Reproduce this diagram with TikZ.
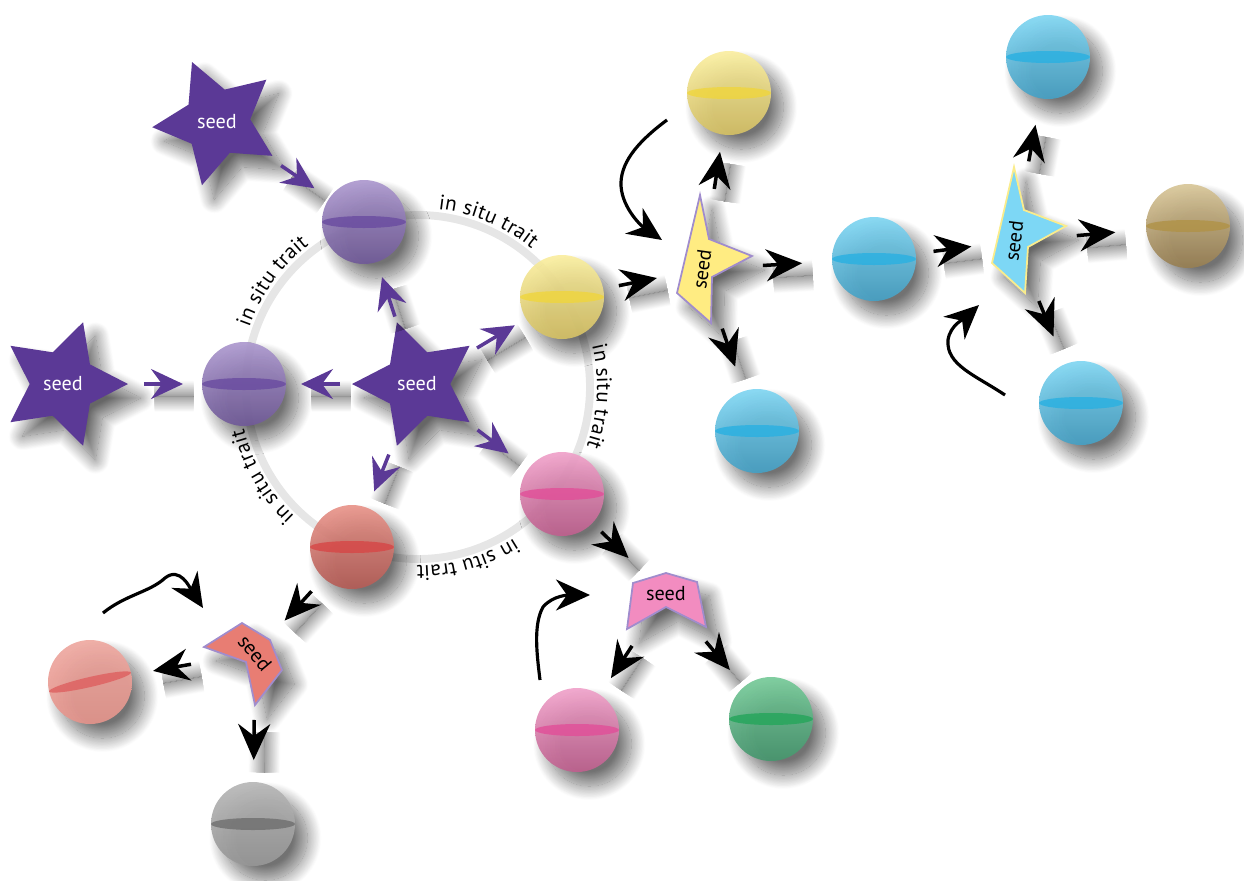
\documentclass[tikz,border=0pt]{standalone}
\usepackage{fontspec}
\setsansfont{PT Sans}
\usetikzlibrary{shapes.geometric,arrows.meta,decorations.text,shadows.blur,calc}

\definecolor{seedpur}{RGB}{91,57,150}
\definecolor{ringgray}{RGB}{230,230,230}
\definecolor{tagpur}{RGB}{160,140,205}
\definecolor{tagrim}{RGB}{250,236,140}
\definecolor{tagyel}{RGB}{255,236,130}
\definecolor{tagcya}{RGB}{125,215,245}
\definecolor{tagpnk}{RGB}{242,140,192}
\definecolor{tagred}{RGB}{232,125,115}
% sphere colours: top, bottom, band
\definecolor{purtop}{RGB}{172,152,206}\definecolor{purbot}{RGB}{112,90,152}\definecolor{purmid}{RGB}{105,75,160}
\definecolor{yeltop}{RGB}{250,238,160}\definecolor{yelbot}{RGB}{212,192,100}\definecolor{yelmid}{RGB}{240,214,60}
\definecolor{pnktop}{RGB}{240,162,202}\definecolor{pnkbot}{RGB}{190,96,142}\definecolor{pnkmid}{RGB}{226,78,152}
\definecolor{redtop}{RGB}{232,148,138}\definecolor{redbot}{RGB}{180,92,86}\definecolor{redmid}{RGB}{215,70,70}
\definecolor{cyatop}{RGB}{128,214,242}\definecolor{cyabot}{RGB}{70,160,196}\definecolor{cyamid}{RGB}{40,176,226}
\definecolor{tantop}{RGB}{216,198,152}\definecolor{tanbot}{RGB}{150,126,82}\definecolor{tanmid}{RGB}{176,146,70}
\definecolor{saltop}{RGB}{238,168,160}\definecolor{salbot}{RGB}{228,148,140}\definecolor{salmid}{RGB}{222,95,95}
\definecolor{grytop}{RGB}{182,182,182}\definecolor{grybot}{RGB}{150,150,150}\definecolor{grymid}{RGB}{110,110,110}
\definecolor{grntop}{RGB}{118,202,152}\definecolor{grnbot}{RGB}{70,150,110}\definecolor{grnmid}{RGB}{35,165,90}

\newcommand{\seedfont}{\sffamily\fontsize{11.5}{13}\selectfont}
\newcommand{\ringfont}{\sffamily\fontsize{12}{14}\selectfont}

\tikzset{
  softshadow/.style={blur shadow={shadow xshift=7pt, shadow yshift=-8pt, shadow blur radius=8pt,
    shadow blur steps=24, shadow opacity=60}},
  ball/.style={circle, minimum size=1.68cm, inner sep=0, fill opacity=.92, softshadow},
  seedstar/.style={star, star points=5, star point ratio=1.95, minimum size=2.6cm, inner sep=0,
    fill=seedpur, text=white, font=\seedfont, softshadow},
  seedtag/.style={inner sep=0, font=\seedfont},
  tagline/.style={line width=1pt, draw=tagpur, softshadow},
  arrshade/.style={blur shadow={shadow xshift=6pt, shadow yshift=-7pt, shadow blur radius=9pt,
    shadow blur steps=24, shadow opacity=75}},
  purarrow/.style={draw=seedpur, line width=2pt, -{Stealth[length=0.64cm, width=0.6cm, inset=0.22cm]}, arrshade},
  blkarrow/.style={draw=black, line width=2pt, -{Stealth[length=0.72cm, width=0.64cm, inset=0.24cm]}, arrshade},
  curlarrow/.style={draw=black, line width=1.8pt, -{Stealth[length=0.68cm, width=0.62cm, inset=0.22cm]}},
  ringline/.style={draw=ringgray, line width=4.5pt}
}

% sphere: name, position, colour prefix
\newcommand{\ball}[3]{%
  \node[ball, top color=#3top, bottom color=#3bot] (#1) at (#2) {};
  \fill[#3mid, opacity=.8] (#1.center) ellipse [x radius=42, y radius=6];
}

\begin{document}
\begin{tikzpicture}[x=0.02cm, y=-0.02cm]
 \useasboundingbox (0,0) rectangle (1244,880);

% the ring of traits
 \coordinate (ring) at (418,387);
 \draw[ringline] (ring) circle [radius=172];
 \foreach \a in {-67,3,74,150,216}
   \path[decorate, decoration={text along path, text={|\ringfont|in situ trait}, text align=center, raise=4pt}]
     (ring) ++(\a-30:172) arc [start angle=\a-30, end angle=\a+30, radius=172];

% spheres
 \ball{pT}{364,222}{pur}
 \ball{pL}{244,384}{pur}
 \ball{yR}{562,297}{yel}
 \ball{kR}{562,494}{pnk}
 \ball{rR}{352,547}{red}
 \ball{yT}{729,93}{yel}
 \ball{cM}{874,259}{cya}
 \ball{cB}{757,431}{cya}
 \ball{cT}{1048,57}{cya}
 \ball{tn}{1188,226}{tan}
 \ball{cD}{1081,403}{cya}
 \ball{gr}{253,824}{gry}
 \ball{kB}{577,730}{pnk}
 \ball{gn}{771,719}{grn}
 \node[ball, top color=saltop, bottom color=salbot] (sa) at (90,682) {};
 \fill[salmid, opacity=.8, rotate around={13:(sa.center)}] (sa.center) ellipse [x radius=42, y radius=5];

% purple seed stars
 \node[seedstar, shape border rotate=22.6] (stT) at (217,122) {seed};
 \node[seedstar, shape border rotate=-18] (stL) at (63,384) {seed};
 \node[seedstar, shape border rotate=18] (stC) at (417,384) {seed};

% seed tags
 \filldraw[tagline, fill=tagyel] (700,195) -- (709,239) -- (752,256) -- (712,277) -- (711,323) -- (677,293) -- cycle;
 \node[seedtag, rotate=82] (sY) at (702,269) {seed};
 \filldraw[tagline, draw=tagrim, fill=tagcya] (1014,167) -- (1024,210) -- (1066,226) -- (1028,247) -- (1025,293) -- (992,263) -- cycle;
 \node[seedtag, rotate=83] (sC) at (1014,241) {seed};
 \filldraw[tagline, fill=tagpnk] (666,573) -- (697,582) -- (706,627) -- (666,607) -- (627,629) -- (633,583) -- cycle;
 \node[seedtag] (sK) at (666,594) {seed};
 \filldraw[tagline, fill=tagred] (242,623) -- (270,640) -- (282,670) -- (255,705) -- (246,662) -- (204,647) -- cycle;
 \node[seedtag, rotate=-50] (sR) at (255,653) {seed};

% purple arrows round the ring
 \draw[purarrow] ($(stT.center)!1.55cm!(pT.center)$) -- ($(pT.center)!1.20cm!(stT.center)$);
 \draw[purarrow] ($(stL.center)!1.62cm!(pL.center)$) -- ($(pL.center)!1.22cm!(stL.center)$);
 \draw[purarrow] ($(stC.center)!1.54cm!(pL.center)$) -- ($(pL.center)!1.14cm!(stC.center)$);
 \draw[purarrow] ($(stC.center)!1.42cm!(pT.center)$) -- ($(pT.center)!1.16cm!(stC.center)$);
 \draw[purarrow] ($(stC.center)!1.40cm!(yR.center)$) -- ($(yR.center)!1.10cm!(stC.center)$);
 \draw[purarrow] ($(stC.center)!1.52cm!(kR.center)$) -- ($(kR.center)!1.34cm!(stC.center)$);
 \draw[purarrow] ($(stC.center)!1.52cm!(rR.center)$) -- ($(rR.center)!1.20cm!(stC.center)$);

% black arrows
 \draw[blkarrow] ($(yR.center)!1.16cm!(sY.center)$) -- ($(sY.center)!0.92cm!(yR.center)$);
 \draw[blkarrow] ($(sY.center)!1.22cm!(cM.center)$) -- ($(cM.center)!1.44cm!(sY.center)$);
 \draw[blkarrow] ($(sY.center)!1.62cm!(yT.center)$) -- ($(yT.center)!1.19cm!(sY.center)$);
 \draw[blkarrow] ($(sY.center)!1.26cm!(cB.center)$) -- ($(cB.center)!1.36cm!(sY.center)$);
 \draw[blkarrow] ($(cM.center)!1.20cm!(sC.center)$) -- ($(sC.center)!0.86cm!(cM.center)$);
 \draw[blkarrow] ($(sC.center)!1.62cm!(cT.center)$) -- ($(cT.center)!1.38cm!(sC.center)$);
 \draw[blkarrow] ($(sC.center)!1.26cm!(tn.center)$) -- ($(tn.center)!1.46cm!(sC.center)$);
 \draw[blkarrow] ($(sC.center)!1.30cm!(cD.center)$) -- ($(cD.center)!1.44cm!(sC.center)$);
 \draw[blkarrow] ($(kR.center)!1.09cm!(sK.center)$) -- ($(sK.center)!1.04cm!(kR.center)$);
 \draw[blkarrow] ($(sK.center)!1.24cm!(kB.center)$) -- ($(kB.center)!1.24cm!(sK.center)$);
 \draw[blkarrow] ($(sK.center)!1.24cm!(gn.center)$) -- ($(gn.center)!1.28cm!(sK.center)$);
 \draw[blkarrow] ($(rR.center)!1.20cm!(sR.center)$) -- ($(sR.center)!0.88cm!(rR.center)$);
 \draw[blkarrow] ($(sR.center)!1.30cm!(sa.center)$) -- ($(sa.center)!1.28cm!(sR.center)$);
 \draw[blkarrow] ($(sR.center)!1.34cm!(gr.center)$) -- ($(gr.center)!1.28cm!(sR.center)$);

% curled arrows coming in from outside
 \coordinate (qY0) at (667,120); \coordinate (qY1) at (662,240);
 \draw[curlarrow] (qY0) .. controls (640,140) and (622,160) .. (621,182) .. controls (620,205) and (640,225) .. (qY1);
 \coordinate (qC0) at (1005,395); \coordinate (qC1) at (979,305);
 \draw[curlarrow] (qC0) .. controls (975,375) and (946,365) .. (948,340) .. controls (950,325) and (965,318) .. (qC1);
 \coordinate (qK0) at (540,680); \coordinate (qK1) at (590,595);
 \draw[curlarrow] (qK0) .. controls (537,655) and (533,625) .. (543,607) .. controls (553,595) and (570,595) .. (qK1);
 \coordinate (qR0) at (103,613); \coordinate (qR1) at (203,608);
 \draw[curlarrow] (qR0) .. controls (125,595) and (150,592) .. (165,578) .. controls (180,566) and (190,588) .. (qR1);

\end{tikzpicture}
\end{document}
